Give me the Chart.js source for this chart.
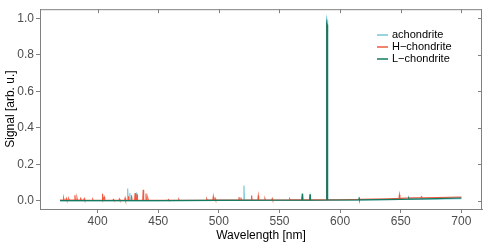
<!DOCTYPE html>
<html>
<head>
<meta charset="utf-8">
<script src="https://cdn.jsdelivr.net/npm/chart.js@4/dist/chart.umd.min.js"></script>
<style>
html,body{margin:0;padding:0;background:#fff;}
canvas{display:block;}
</style>
</head>
<body>
<canvas id="c" width="491" height="245"></canvas>
<script>
// ---- data ----
const seriesNames = ["achondrite", "H\u2212chondrite", "L\u2212chondrite"];
const xTickValues = [400, 450, 500, 550, 600, 650, 700];
const yTickValues = [0, 0.2, 0.4, 0.6, 0.8, 1.0];

const achondriteWavelength = [369, 380, 400, 424.4, 424.8, 425.2, 426.2, 426.6, 427.0, 431.8, 432.2, 432.6, 450, 500, 520.3, 520.7, 521.1, 550, 568.4, 568.8, 569.2, 574.8, 575.2, 575.6, 588.5, 588.9, 589.3, 589.7, 600, 650, 700];
const achondriteSignal     = [0.001, 0.001, 0.001, 0.001, 0.067, 0.001, 0.001, 0.042, 0.001, 0.001, 0.045, 0.001, 0.001, 0.002, 0.002, 0.084, 0.002, 0.002, 0.002, 0.030, 0.002, 0.002, 0.025, 0.002, 0.002, 1.000, 0.990, 0.003, 0.003, 0.008, 0.012];

const hChondriteWavelength = [369, 371.6, 372, 372.4, 373.8, 374.2, 374.6, 375.8, 376.2, 376.6, 380.9, 381.3, 381.7, 382.6, 383, 383.4, 385.6, 386, 386.4, 388.6, 389, 389.4, 395.6, 396, 396.4, 403.7, 404.1, 404.5, 405.1, 405.5, 405.9, 412.6, 413, 413.4, 417.6, 418, 418.4, 422.3, 422.7, 423.1, 425.1, 425.5, 425.9, 427.6, 428, 428.4, 430.5, 430.9, 431.3, 432.1, 432.5, 432.9, 437.2, 437.6, 438, 439.5, 439.9, 440.3, 441, 441.4, 441.8, 458, 458.4, 458.8, 466.6, 467, 467.4, 489.6, 490, 490.4, 495, 495.4, 495.8, 496.6, 497, 497.4, 516.2, 516.6, 517, 517.8, 518.2, 518.6, 526.6, 527, 527.4, 532.1, 532.5, 532.9, 537.6, 538, 538.4, 543.6, 544, 544.4, 558, 558.4, 558.8, 568.4, 568.8, 569.2, 574.8, 575.2, 575.6, 588.6, 589, 589.4, 600, 615.6, 616, 616.4, 640, 648.5, 648.9, 649.3, 660, 666.6, 667, 667.4, 680, 700];
const hChondriteSignal     = [0.004, 0.004, 0.015, 0.004, 0.004, 0.013, 0.004, 0.004, 0.011, 0.004, 0.004, 0.031, 0.004, 0.004, 0.016, 0.004, 0.004, 0.018, 0.004, 0.004, 0.012, 0.004, 0.003, 0.008, 0.003, 0.003, 0.038, 0.003, 0.003, 0.020, 0.003, 0.003, 0.008, 0.003, 0.003, 0.010, 0.003, 0.003, 0.015, 0.003, 0.003, 0.025, 0.003, 0.003, 0.030, 0.003, 0.003, 0.042, 0.003, 0.003, 0.035, 0.003, 0.003, 0.060, 0.003, 0.003, 0.040, 0.003, 0.003, 0.015, 0.003, 0.003, 0.007, 0.003, 0.003, 0.008, 0.003, 0.004, 0.010, 0.004, 0.004, 0.023, 0.004, 0.004, 0.012, 0.004, 0.004, 0.020, 0.004, 0.004, 0.018, 0.004, 0.004, 0.029, 0.004, 0.004, 0.028, 0.004, 0.004, 0.012, 0.004, 0.004, 0.012, 0.004, 0.005, 0.010, 0.005, 0.005, 0.020, 0.005, 0.005, 0.020, 0.005, 0.005, 0.970, 0.005, 0.006, 0.008, 0.012, 0.008, 0.011, 0.013, 0.033, 0.013, 0.016, 0.017, 0.022, 0.017, 0.018, 0.020];

const lChondriteWavelength = [369, 400, 450, 500, 550, 568.5, 568.8, 569.1, 574.9, 575.2, 575.5, 588.5, 588.9, 589.3, 589.7, 600, 615.3, 615.6, 615.9, 650, 656.3, 656.6, 656.9, 680, 700];
const lChondriteSignal     = [0.001, 0.001, 0.001, 0.002, 0.003, 0.003, 0.040, 0.003, 0.003, 0.035, 0.003, 0.004, 0.975, 0.965, 0.004, 0.004, 0.005, 0.013, 0.005, 0.008, 0.009, 0.014, 0.009, 0.012, 0.015];

const seriesColors = ["#74c4d6", "#ee5a40", "#167a60"];

// ---- build ----
function zip(xs, ys){ return xs.map((x,i)=>({x:x, y:ys[i]})); }
const seriesData = [
  zip(achondriteWavelength, achondriteSignal),
  zip(hChondriteWavelength, hChondriteSignal),
  zip(lChondriteWavelength, lChondriteSignal)
];

const FONT = "'Liberation Sans', Arial, Helvetica, sans-serif";
const AXIS = "#808080";

const boxPlugin = {
  id: 'box',
  afterDraw(chart){
    const {ctx, chartArea:a, scales} = chart;
    ctx.save();
    ctx.strokeStyle = AXIS; ctx.lineWidth = 1;
    ctx.beginPath();
    ctx.moveTo(a.left, a.top+0.5); ctx.lineTo(a.right, a.top+0.5);
    ctx.moveTo(a.right-0.5, a.top); ctx.lineTo(a.right-0.5, a.bottom);
    xTickValues.forEach(v=>{
      const px = Math.round(scales.x.getPixelForValue(v))+0.5;
      ctx.moveTo(px, a.top); ctx.lineTo(px, a.top+4);
    });
    yTickValues.forEach(v=>{
      const py = Math.round(scales.y.getPixelForValue(v))+0.5;
      ctx.moveTo(a.right, py); ctx.lineTo(a.right-4, py);
    });
    ctx.stroke();
    // legend
    ctx.font = "11px " + FONT;
    ctx.textBaseline = 'middle';
    ctx.textAlign = 'left';
    seriesNames.forEach((n,i)=>{
      const y = 35 + i*12;
      ctx.strokeStyle = seriesColors[i]; ctx.lineWidth = 1.5;
      ctx.beginPath(); ctx.moveTo(377, y); ctx.lineTo(388, y); ctx.stroke();
      ctx.fillStyle = "#000";
      ctx.fillText(n, 392, y);
    });
    ctx.restore();
  }
};

new Chart(document.getElementById('c'), {
  type: 'scatter',
  data: {
    datasets: seriesData.map((d,i)=>({
      label: seriesNames[i],
      data: d,
      showLine: true,
      borderColor: seriesColors[i],
      backgroundColor: seriesColors[i],
      borderWidth: 1.1,
      pointRadius: 0,
      order: 3 - i
    }))
  },
  options: {
    responsive: false,
    animation: false,
    events: [],
    layout: { padding: { left: 0, right: 9, top: 9, bottom: 0 } },
    plugins: { legend: { display: false }, tooltip: { enabled: false } },
    scales: {
      x: {
        type: 'linear', min: 352.5, max: 717,
        afterFit(s){ s.height = 36; },
        afterBuildTicks(s){ s.ticks = xTickValues.map(v=>({value:v})); },
        grid: { drawOnChartArea: false, tickLength: 4, color: AXIS },
        border: { display: true, color: AXIS },
        ticks: { color: "#4d4d4d", font: { family: FONT, size: 12 }, padding: 1, maxRotation: 0 },
        title: { display: true, text: "Wavelength [nm]", color: "#000", font: { family: FONT, size: 12 }, padding: { top: 0, bottom: 2 } }
      },
      y: {
        type: 'linear', min: -0.045, max: 1.05,
        afterFit(s){ s.width = 40; },
        afterBuildTicks(s){ s.ticks = yTickValues.map(v=>({value:v})); },
        grid: { drawOnChartArea: false, tickLength: 4, color: AXIS },
        border: { display: true, color: AXIS },
        ticks: { color: "#4d4d4d", font: { family: FONT, size: 12 }, padding: 2, callback: v => Number(v).toFixed(1) },
        title: { display: true, text: "Signal [arb. u.]", color: "#000", font: { family: FONT, size: 12 }, padding: { top: 3, bottom: 0 } }
      }
    }
  },
  plugins: [boxPlugin]
});
</script>
</body>
</html>
